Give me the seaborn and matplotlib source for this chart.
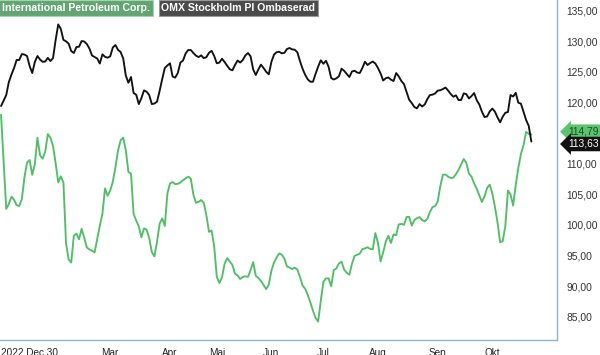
#!/usr/bin/env python
"""
Indexed price chart: International Petroleum Corp. vs OMX Stockholm PI
"""

import numpy as np
import pandas as pd
import seaborn as sns
import matplotlib.pyplot as plt
import matplotlib.transforms as mtransforms

# Stockholm trading days (weekdays minus exchange holidays)
holidays = ["2023-01-06", "2023-04-07", "2023-04-10", "2023-05-01",
            "2023-05-18", "2023-06-06", "2023-06-23"]
dates = pd.bdate_range("2022-12-30", "2023-10-23", freq="C", holidays=holidays)

series_names = ["International Petroleum Corp.", "OMX Stockholm PI Ombaserad"]

ipc = [118.0, 110.28, 102.63, 103.42, 104.63, 104.12, 103.25, 103.09, 104.23, 107.75,
       110.20, 110.61, 108.20, 109.95, 114.25, 111.39, 110.82, 111.96, 114.85, 114.25,
       112.89, 110.12, 106.96, 107.96, 106.95, 97.00, 94.40, 93.86, 98.25, 98.60,
       97.65, 99.38, 97.91, 96.34, 96.01, 95.80, 95.52, 97.75, 99.90, 101.86,
       105.98, 104.77, 105.64, 107.06, 109.41, 112.17, 113.83, 114.27, 112.19, 108.65,
       108.40, 101.78, 100.72, 99.76, 97.98, 99.45, 99.23, 97.86, 95.57, 94.87,
       97.21, 100.20, 101.08, 99.85, 105.13, 106.80, 107.01, 106.68, 106.72, 106.93,
       107.31, 107.62, 107.89, 107.58, 104.94, 103.63, 103.79, 104.07, 103.60, 101.57,
       98.87, 99.10, 96.50, 91.54, 90.51, 91.44, 93.66, 94.59, 94.05, 93.48,
       92.03, 91.75, 91.18, 91.52, 91.62, 91.54, 92.63, 93.94, 91.70, 91.34,
       90.85, 90.18, 89.53, 90.25, 92.52, 93.86, 94.67, 95.36, 95.15, 94.51,
       93.22, 93.04, 92.80, 93.04, 92.71, 91.52, 90.12, 89.59, 88.58, 87.34,
       86.01, 84.85, 84.22, 87.60, 90.70, 91.28, 91.28, 89.99, 92.63, 92.91,
       93.73, 94.00, 92.71, 92.17, 91.88, 93.65, 94.95, 95.15, 95.33, 96.06,
       96.18, 96.36, 96.10, 96.01, 98.68, 97.08, 94.04, 95.52, 97.26, 98.25,
       97.06, 98.47, 98.32, 100.10, 100.18, 100.03, 101.29, 101.34, 99.90, 100.80,
       101.11, 101.29, 100.80, 100.59, 101.00, 102.13, 102.93, 103.09, 103.86, 106.39,
       108.22, 108.24, 107.89, 107.68, 107.73, 108.30, 109.02, 109.89, 110.77, 110.13,
       108.40, 107.89, 106.77, 105.93, 104.81, 103.76, 104.67, 106.06, 106.59, 105.12,
       102.94, 100.44, 97.16, 97.37, 99.82, 105.62, 105.00, 103.16, 106.55, 109.33,
       111.59, 113.06, 115.21, 114.89, 114.79]

omx = [119.43, 120.33, 121.23, 123.35, 124.56, 125.64, 126.95, 126.95, 127.92, 127.84,
       127.60, 125.96, 124.82, 126.62, 127.60, 127.03, 126.65, 126.70, 127.30, 126.78,
       127.27, 130.21, 132.76, 132.01, 130.24, 130.00, 129.62, 128.41, 128.09, 129.07,
       129.12, 130.05, 129.97, 129.56, 128.82, 127.68, 127.43, 127.19, 126.37, 127.87,
       127.47, 127.32, 127.55, 128.99, 129.40, 128.61, 128.25, 127.19, 124.41, 123.24,
       124.17, 121.55, 121.27, 119.75, 120.73, 121.99, 121.76, 121.23, 119.75, 119.84,
       120.13, 121.88, 123.84, 125.64, 126.06, 126.41, 124.25, 124.07, 124.82, 126.53,
       126.86, 128.01, 128.58, 128.58, 128.09, 127.65, 127.43, 127.71, 127.24, 127.42,
       128.12, 128.45, 127.60, 126.42, 126.52, 127.16, 126.62, 126.01, 125.44, 125.26,
       126.13, 126.86, 126.53, 126.95, 127.70, 128.09, 127.55, 125.39, 124.50, 125.41,
       126.19, 125.64, 125.02, 124.61, 126.62, 127.83, 128.22, 128.30, 128.04, 128.12,
       128.74, 128.91, 128.68, 128.63, 128.20, 126.78, 125.51, 124.53, 123.78, 123.40,
       123.40, 124.69, 125.88, 126.90, 126.33, 126.83, 125.85, 124.00, 123.76, 123.96,
       124.30, 125.54, 125.17, 124.66, 124.17, 125.07, 125.20, 124.90, 124.82, 125.64,
       126.67, 126.13, 126.46, 126.70, 126.37, 125.64, 124.77, 123.60, 123.97, 124.10,
       123.74, 123.51, 124.82, 124.27, 123.51, 123.02, 121.75, 120.46, 119.92, 119.27,
       119.05, 119.75, 119.35, 119.69, 120.57, 121.23, 121.29, 121.49, 121.95, 122.01,
       122.21, 122.45, 121.96, 121.39, 120.95, 121.18, 120.41, 120.41, 121.50, 121.36,
       120.67, 121.06, 121.55, 120.38, 119.67, 118.50, 117.63, 117.73, 118.55, 119.02,
       118.50, 117.57, 116.77, 117.70, 118.33, 118.45, 121.23, 120.98, 121.59, 119.97,
       119.82, 118.45, 117.14, 116.19, 113.63]

month_labels = {2: "Feb", 3: "Mar", 4: "Apr", 5: "Mai", 6: "Jun",
                7: "Jul", 8: "Aug", 9: "Sep", 10: "Okt"}
y_ticks = [85, 90, 95, 100, 105, 110, 115, 120, 125, 130, 135]

green = "#4fbf65"
spine_c = "#8fb3c9"

df = pd.DataFrame({
    "day": np.concatenate([np.arange(len(dates))] * 2),
    "value": ipc + omx,
    "series": [series_names[0]] * len(ipc) + [series_names[1]] * len(omx),
})

sns.set_style("white")
plt.rcParams["font.family"] = ["Liberation Sans", "DejaVu Sans"]

fig = plt.figure(figsize=(6.0, 3.55), dpi=100)
ax = fig.add_axes([0.0, 0.042, 0.928, 0.958])

sns.lineplot(data=df, x="day", y="value", hue="series",
             palette={series_names[0]: green, series_names[1]: "#111111"},
             linewidth=1.35, legend=False, ax=ax)

ax.set_xlim(-0.4, 213.8)
ax.set_ylim(81.2, 136.75)
ax.set_xlabel("")
ax.set_ylabel("")

for s in ["left", "top"]:
    ax.spines[s].set_visible(False)
for s in ["right", "bottom"]:
    ax.spines[s].set_color(spine_c)
    ax.spines[s].set_linewidth(1.0)

# month ticks at first trading day of each month
tick_pos, tick_lab = [0], ["2022 Dec 30"]
for i in range(1, len(dates)):
    m = dates[i].month
    if m != dates[i - 1].month and m in month_labels:
        tick_pos.append(i)
        tick_lab.append("" if m == 2 else month_labels[m])
ax.set_xticks(tick_pos)
ax.set_xticklabels(tick_lab)
ax.tick_params(axis="x", direction="out", length=5, width=1, color=spine_c,
               labelsize=7.2, labelcolor="#222222", pad=1.0)
ax.get_xticklabels()[0].set_horizontalalignment("left")

ax.yaxis.tick_right()
ax.set_yticks(y_ticks)
ax.set_yticklabels([f"{v:.2f}".replace(".", ",") for v in y_ticks])
ax.tick_params(axis="y", length=0, labelsize=7.4, labelcolor="#333333", pad=7)

# series name boxes
ax.text(0.004, 0.99, series_names[0], transform=ax.transAxes, ha="left", va="top",
        fontsize=7.6, fontweight="bold", color="white",
        bbox=dict(boxstyle="square,pad=0.28", fc="#62a572", ec="#a5d4ae", lw=0.8))
ax.text(0.290, 0.99, series_names[1], transform=ax.transAxes, ha="left", va="top",
        fontsize=7.6, fontweight="bold", color="white",
        bbox=dict(boxstyle="square,pad=0.28", fc="#4a4a4a", ec="#9a9a9a", lw=0.8))

# last value tags on the right axis
trans = mtransforms.blended_transform_factory(ax.transAxes, ax.transData)
ax.text(1.02, ipc[-1] + 0.45, f"{ipc[-1]:.2f}".replace(".", ","), transform=trans,
        ha="left", va="center", fontsize=7.4, color="#1a4d25", clip_on=False,
        bbox=dict(boxstyle="larrow,pad=0.22", fc="#5cc46f", ec="none"))
ax.text(1.02, omx[-1] - 0.4, f"{omx[-1]:.2f}".replace(".", ","), transform=trans,
        ha="left", va="center", fontsize=7.4, color="white", clip_on=False,
        bbox=dict(boxstyle="larrow,pad=0.22", fc="#111111", ec="none"))

fig.savefig("out.png", dpi=100)
